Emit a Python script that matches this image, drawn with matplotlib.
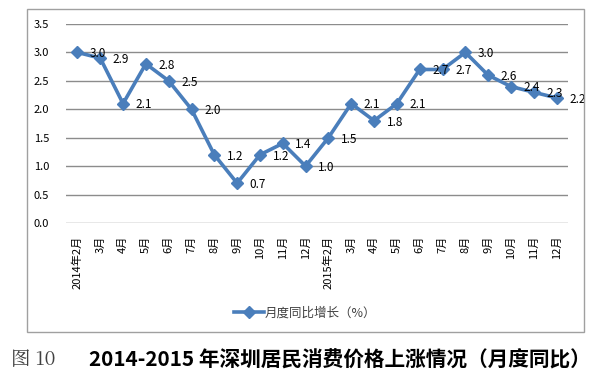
import matplotlib
matplotlib.use("Agg")
import matplotlib.pyplot as plt
from matplotlib.patches import Rectangle

plt.rcParams['font.family'] = ['Noto Sans CJK SC', 'DejaVu Sans']

months = ["2014年2月", "3月", "4月", "5月", "6月", "7月", "8月", "9月", "10月", "11月", "12月",
          "2015年2月", "3月", "4月", "5月", "6月", "7月", "8月", "9月", "10月", "11月", "12月"]
values = [3.0, 2.9, 2.1, 2.8, 2.5, 2.0, 1.2, 0.7, 1.2, 1.4, 1.0,
          1.5, 2.1, 1.8, 2.1, 2.7, 2.7, 3.0, 2.6, 2.4, 2.3, 2.2]
yticks = [0.0, 0.5, 1.0, 1.5, 2.0, 2.5, 3.0, 3.5]
series_name = "月度同比增长（%）"
caption_num = "图 10"
caption = "2014-2015 年深圳居民消费价格上涨情况（月度同比）"

W, H = 595, 376
fig = plt.figure(figsize=(W / 100, H / 100), dpi=100)

# outer chart border
fig.add_artist(Rectangle((27 / W, 1 - 332 / H), (584 - 27) / W, (332 - 9) / H,
                         transform=fig.transFigure, fill=False, edgecolor="#a0a0a0", lw=1.0))

ax = fig.add_axes([66 / W, 1 - 223 / H, (568 - 66) / W, (223 - 24) / H])
x = list(range(len(values)))
color = "#4a7ebb"
line, = ax.plot(x, values, color=color, lw=2.6, marker="D", ms=6.5,
                markeredgecolor=color, markerfacecolor=color, label=series_name, zorder=3)

for xi, v in zip(x, values):
    ax.annotate(f"{v:.1f}", (xi, v), xytext=(9, -1), textcoords="offset points",
                ha="left", va="center", fontsize=8.5, color="#000000", zorder=4)

ax.set_xlim(-0.5, len(values) - 0.5)
ax.set_ylim(0, 3.5)
ax.set_yticks(yticks)
ax.set_yticklabels([f"{t:.1f}" for t in yticks], fontsize=8)
ax.set_xticks(x)
ax.set_xticklabels(months, rotation=90, fontsize=8, va="top")
ax.tick_params(axis="both", length=0)
ax.tick_params(axis="y", pad=12)
ax.tick_params(axis="x", pad=9)
ax.grid(axis="y", color="#8c8c8c", lw=1.0)
ax.set_axisbelow(True)
for s in ax.spines.values():
    s.set_visible(False)

fig.legend(handles=[line], labels=[series_name], loc="center",
           bbox_to_anchor=(305 / W, 1 - 313 / H), frameon=False,
           fontsize=9, handlelength=2.4, handletextpad=0.1, labelcolor="#404040")

fig.text(11 / W, 1 - 360 / H, caption_num, fontsize=14, color="#404040",
         ha="left", va="center", family=["Noto Serif CJK SC", "Liberation Serif", "Noto Sans CJK SC"])
fig.text(89 / W, 1 - 360 / H, caption, fontsize=14.9, fontweight="bold", color="#000000",
         ha="left", va="center")

fig.savefig("out.png", dpi=100)
